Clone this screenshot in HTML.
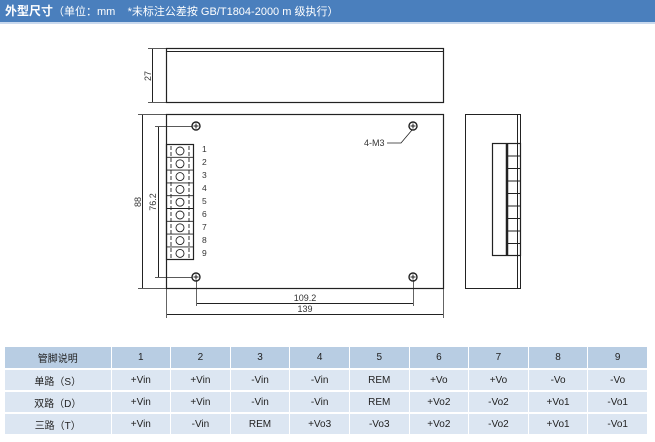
<!DOCTYPE html>
<html><head><meta charset="utf-8"><style>
body{margin:0;width:655px;height:442px;background:#fff;overflow:hidden;font-family:"Liberation Sans","Noto Sans CJK SC",sans-serif;}
.hdr{position:absolute;left:0;top:0;width:655px;height:22px;background:#4a7fbd;border-bottom:2px solid #c9d9ee;color:#fff;font-size:11px;line-height:22px;}
.hdr b{font-size:12px;margin-left:5px}
table{position:absolute;left:5px;top:347px;width:643px;border-collapse:collapse;font-size:10px;color:#222;table-layout:fixed}
td{text-align:center;height:20px;border-right:1px solid #fff;border-bottom:2px solid #fff;padding:0}
tr.h td{background:#b8cde3;height:21px}
tr.r td{background:#dce6f2}
</style></head><body>
<div class="hdr"><b>外型尺寸</b>（单位：mm &nbsp;&nbsp;&nbsp;*未标注公差按 GB/T1804-2000 m 级执行）</div>
<svg width="655" height="442" style="position:absolute;left:0;top:0" font-family="Liberation Sans, sans-serif">
<g stroke="#222" fill="none" stroke-width="1">
<rect x="166.5" y="48.5" width="277" height="54" stroke-width="1.2"/>
<line x1="166" y1="51.5" x2="443" y2="51.5"/>
<line x1="148" y1="48.5" x2="166" y2="48.5" stroke-width="0.7"/>
<line x1="148" y1="102.5" x2="166" y2="102.5" stroke-width="0.7"/>
<line x1="152.5" y1="49" x2="152.5" y2="102"/>
<rect x="166.5" y="114.5" width="277" height="174" stroke-width="1.2"/>
<line x1="138" y1="114.5" x2="166" y2="114.5" stroke-width="0.7"/>
<line x1="138" y1="288.5" x2="166" y2="288.5" stroke-width="0.7"/>
<line x1="142.5" y1="115" x2="142.5" y2="288"/>
<line x1="155" y1="126.5" x2="192" y2="126.5" stroke-width="0.7"/>
<line x1="155" y1="277.5" x2="192" y2="277.5" stroke-width="0.7"/>
<line x1="158.5" y1="127" x2="158.5" y2="277"/>
<line x1="166.5" y1="288" x2="166.5" y2="318" stroke-width="0.7"/>
<line x1="443.5" y1="288" x2="443.5" y2="318" stroke-width="0.7"/>
<line x1="196.5" y1="280" x2="196.5" y2="306" stroke-width="0.7"/>
<line x1="413.5" y1="280" x2="413.5" y2="306" stroke-width="0.7"/>
<line x1="197" y1="303.5" x2="413" y2="303.5"/>
<line x1="167" y1="314.5" x2="443" y2="314.5"/>
<g stroke-width="1.4">
<circle cx="196" cy="126" r="4"/><circle cx="413" cy="126" r="4"/>
<circle cx="196" cy="277" r="4"/><circle cx="413" cy="277" r="4"/>
</g>
<path d="M193.5 126h5M196 123.5v5M410.5 126h5M413 123.5v5M193.5 277h5M196 274.5v5M410.5 277h5M413 274.5v5"/>
<path d="M387 143h14l11-13" stroke-width="0.8"/>
<rect x="166.5" y="144.5" width="27" height="115" stroke-width="1.2"/>
<rect x="465.5" y="114.5" width="55" height="174"/>
<line x1="517.5" y1="114" x2="517.5" y2="288"/>
<rect x="492.5" y="143.5" width="28" height="112" stroke-width="1.2"/>
</g>
<g font-size="9" fill="#333">
<text x="151" y="76" transform="rotate(-90 151 76)" text-anchor="middle">27</text>
<text x="141" y="202" transform="rotate(-90 141 202)" text-anchor="middle">88</text>
<text x="156" y="202" transform="rotate(-90 156 202)" text-anchor="middle">76.2</text>
<text x="305" y="301" text-anchor="middle">109.2</text>
<text x="305" y="312" text-anchor="middle">139</text>
<text x="364" y="146">4-M3</text>
</g>
<g font-size="8.5" fill="#333">
<text x="202" y="152">1</text><text x="202" y="165">2</text><text x="202" y="178">3</text>
<text x="202" y="191">4</text><text x="202" y="204">5</text><text x="202" y="217">6</text>
<text x="202" y="230">7</text><text x="202" y="243">8</text><text x="202" y="256">9</text>
</g>
<g stroke="#222" fill="none" stroke-width="0.9">
<path d="M166 157.3h27M166 170.1h27M166 182.9h27M166 195.7h27M166 208.5h27M166 221.3h27M166 234.1h27M166 246.9h27"/>
<circle cx="180" cy="151" r="4"/><circle cx="180" cy="163.8" r="4"/><circle cx="180" cy="176.6" r="4"/>
<circle cx="180" cy="189.4" r="4"/><circle cx="180" cy="202.2" r="4"/><circle cx="180" cy="215" r="4"/>
<circle cx="180" cy="227.8" r="4"/><circle cx="180" cy="240.6" r="4"/><circle cx="180" cy="253.4" r="4"/>
<path d="M171 146v113M189 146v113" stroke-dasharray="4 2"/>
<path d="M507 156h13M507 168.5h13M507 181h13M507 193.5h13M507 206h13M507 218.5h13M507 231h13M507 243.5h13"/>
<path d="M507 144v111" stroke-width="2.5"/>
</g>
</svg>
<table>
<colgroup><col style="width:106px"><col><col><col><col><col><col><col><col><col></colgroup>
<tr class="h"><td>管脚说明</td><td>1</td><td>2</td><td>3</td><td>4</td><td>5</td><td>6</td><td>7</td><td>8</td><td>9</td></tr>
<tr class="r"><td>单路（S）</td><td>+Vin</td><td>+Vin</td><td>-Vin</td><td>-Vin</td><td>REM</td><td>+Vo</td><td>+Vo</td><td>-Vo</td><td>-Vo</td></tr>
<tr class="r"><td>双路（D）</td><td>+Vin</td><td>+Vin</td><td>-Vin</td><td>-Vin</td><td>REM</td><td>+Vo2</td><td>-Vo2</td><td>+Vo1</td><td>-Vo1</td></tr>
<tr class="r"><td>三路（T）</td><td>+Vin</td><td>-Vin</td><td>REM</td><td>+Vo3</td><td>-Vo3</td><td>+Vo2</td><td>-Vo2</td><td>+Vo1</td><td>-Vo1</td></tr>
</table>
</body></html>
